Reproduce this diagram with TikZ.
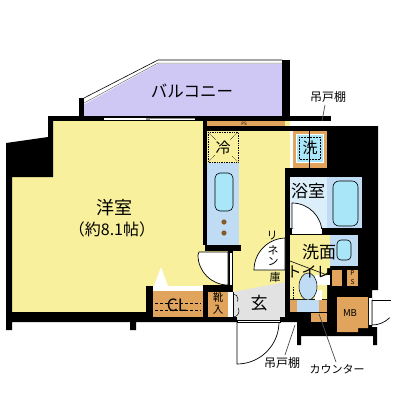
\documentclass[tikz,border=0pt]{standalone}
\usepackage{fontspec}
\setmainfont{Noto Sans CJK JP}
\usepackage{tikz}
\definecolor{roomcol}{HTML}{F8F09C}
\definecolor{balccol}{HTML}{CFC8F4}
\definecolor{boxcol}{HTML}{E0A45C}
\definecolor{unitcol}{HTML}{BFDCF4}
\definecolor{bathcol}{HTML}{DCEEFA}
\definecolor{tubcol}{HTML}{A8E6F8}
\definecolor{hallcol}{HTML}{E2E2E2}
\tikzset{
  wall/.style={fill=black,draw=none},
  cupboard/.style={fill=boxcol,draw=none},
  fixture/.style={fill=tubcol,draw=black,line width=0.6pt,rounded corners=5pt},
  leaf/.style={fill=white,draw=black,line width=0.7pt},
  leader/.style={draw=black!70,line width=0.7pt},
  lab/.style={inner sep=0pt,text=black}
}
\begin{document}
\begin{tikzpicture}[x=1pt,y=-1pt]
\useasboundingbox (0,0) rectangle (400,400);
% balcony
\fill[balccol] (83,105) -- (158,64) -- (282,64) -- (282,116) -- (83,116) -- cycle;
\draw[line width=0.6pt] (84,98) -- (158,60) -- (282,60);
\draw[black!60,line width=0.5pt] (84,103) -- (158,63) -- (282,63);
\fill[wall] (79,98) rectangle (84,116);
\fill[wall] (282,60) rectangle (290,116);
% floors
\fill[roomcol] (53,121) -- (290,121) -- (290,317) -- (146,317) -- (146,312) -- (12,312) -- (12,177) -- (53,177) -- cycle;
\fill[hallcol] (233,292) -- (285,282) -- (285,317) -- (233,317) -- cycle;
% outer walls
\fill[wall] (48,116) rectangle (331,121);
\fill[wall] (6,143) -- (48,137) -- (48,116) -- (53,116) -- (53,177) -- (12,177) -- (12,312) -- (146,312) -- (146,286) -- (153,286) -- (153,317) -- (237,317) -- (237,322) -- (136,322) -- (136,330) -- (130,330) -- (130,322) -- (12,322) -- (12,330) -- (6,330) -- cycle;
\fill[white] (104,118) rectangle (146,120);
\fill[black!45] (146,118) rectangle (195,120);
\fill[white] (150,119) rectangle (195,120);
\fill[wall] (203,126) rectangle (331,131);
\fill[wall] (285,168) -- (327,168) -- (327,126) -- (378,126) -- (378,290) -- (372,290) -- (372,327) -- (377,327) -- (377,345) -- (373,345) -- (373,336) -- (301,336) -- (301,345) -- (297,345) -- (297,322) -- (280,322) -- (280,317) -- (285,317) -- cycle;
% kitchen
\fill[wall] (203,121) rectangle (207,245);
\fill[wall] (205,245) rectangle (241,251);
\fill[cupboard] (207,121) rectangle (285,126);
\node[lab,font=\fontsize{4.5}{5}\selectfont] (psa) at (244,123.5) {PS};
\draw[densely dotted,fill=roomcol,line width=0.7pt] (208,132) rectangle (238,162);
\draw[densely dotted,line width=0.5pt] (208,132) -- (238,162) (238,132) -- (208,162);
\node[lab,fill=roomcol,inner sep=1pt,font=\fontsize{15}{15}\selectfont] (fridge) at (223,148) {冷};
\fill[unitcol] (207,163) rectangle (239,245);
\draw[fixture] (215,173) rectangle (233,211);
\fill[brown!70!black] (224,222) circle (2.6) (224,233) circle (2.6);
% washer
\fill[cupboard] (293,131) rectangle (327,168);
\draw[fill=tubcol,draw=white,line width=1pt] (296,134) rectangle (323,162);
\draw[densely dotted,line width=0.5pt] (299,137) rectangle (320,159);
\node[lab,font=\fontsize{15}{15}\selectfont] (washer) at (310,148) {洗};
\draw[line width=0.7pt] (309,131) -- (309,168);
% bath
\fill[bathcol] (290,177) rectangle (327,228);
\fill[unitcol] (327,177) rectangle (362,228);
\draw[fixture,rounded corners=6pt] (333,181) rectangle (358,226);
\draw[leaf] (292,229) -- (292,203) arc[start angle=-90,end angle=0,radius=30] -- cycle;
\fill[white] (292,229) rectangle (322,234);
\node[lab,font=\fontsize{17}{17}\selectfont] (bath) at (308,191) {浴室};
% wash room
\fill[roomcol] (290,235) -- (330,235) -- (330,268) -- (327,268) -- (327,299) -- (290,299) -- cycle;
\fill[unitcol] (330,235) rectangle (358,266);
\draw[fixture,rounded corners=4pt] (337,240) rectangle (351,260);
\fill[cupboard] (332,270) rectangle (342,286);
\fill[cupboard] (347,270) rectangle (358,286);
\node[lab,font=\fontsize{6.5}{7}\selectfont] (psp) at (352.5,273.5) {P};
\node[lab,font=\fontsize{6.5}{7}\selectfont] (pss) at (352.5,282) {S};
\fill[white] (315,275) rectangle (330,285);
\fill[white] (315,290) rectangle (322,300);
\draw[fill=unitcol,line width=0.5pt] (308,286.5) ellipse (9 and 13.5);
\draw[densely dotted,line width=0.6pt] (293,287) -- (293,299);
\fill[cupboard] (290,300) rectangle (297,312);
\fill[unitcol] (297,300) rectangle (319,312);
\fill[cupboard] (319,300) rectangle (327,312);
\fill[cupboard] (311,313) rectangle (327,322);
\node[lab,font=\fontsize{17}{17}\selectfont] (washroom) at (319,252) {洗面};
\node[lab,font=\fontsize{15}{15}\selectfont] (toilet) at (309,272) {トイレ};
\coordinate (diaga) at (282,258);
\coordinate (diagb) at (327,275);
\draw[line width=0.6pt] (diaga) -- (diagb);
% MB and door on the east side
\fill[cupboard] (337,297) -- (368,297) -- (368,328) -- (358,328) -- (358,332) -- (337,332) -- cycle;
\node[lab,font=\fontsize{9.5}{10}\selectfont] (mb) at (350,313) {MB};
\fill[white] (369,298) rectangle (372,325);
\draw[line width=0.7pt] (372,300) -- (391,300);
\draw[line width=0.7pt] (372,300) -- (372,325) arc[start angle=90,end angle=45,radius=25];
% closet and entrance
\fill[white] (153,287) rectangle (203,291);
\fill[cupboard] (153,291) rectangle (203,317);
\draw[densely dashed,line width=0.5pt] (155,303) -- (201,303) (155,310) -- (201,310);
\node[lab,font=\fontsize{17}{17}\selectfont] (cl) at (177,305) {CL};
\fill[wall] (203,285) rectangle (233,292);
\fill[wall] (203,285) rectangle (208,317);
\fill[cupboard] (208,292) rectangle (228,317);
\node[lab,align=center,font=\fontsize{10.5}{12}\selectfont] (shoe) at (218,304) {靴\\入};
\fill[wall] (228,251) rectangle (233,292);
\fill[white] (230,253) rectangle (231.5,285);
\draw[leaf] (199,252) -- (228,252) -- (228,285) arc[start angle=90,end angle=180,radius=30] -- cycle;
\fill[white] (228,292) rectangle (233,317);
\draw[line width=0.5pt] (233,292) -- (233,317);
\draw[line width=0.5pt] (233,294) arc[start angle=-90,end angle=30,radius=5];
\draw[line width=0.5pt] (233,317) arc[start angle=90,end angle=-30,radius=6];
\fill[white] (161,267) -- (154,286) -- (168,286) -- cycle;
\fill[white] (153,286) rectangle (203,287);
\node[lab,font=\fontsize{17}{17}\selectfont] (genkan) at (259,303) {玄};
% linen store
\draw[leaf] (285,238) -- (285,270) -- (254,270) arc[start angle=180,end angle=270,radius=32];
\node[lab,font=\fontsize{11}{11}\selectfont] (linena) at (272,236) {リ};
\node[lab,font=\fontsize{11}{11}\selectfont] (linenb) at (273,250) {ネ};
\node[lab,font=\fontsize{11}{11}\selectfont] (linenc) at (273,262) {ン};
\node[lab,font=\fontsize{11}{11}\selectfont] (linend) at (275,277) {庫};
% main door
\fill[hallcol] (237,317) rectangle (280,320);
\draw[fill=white,line width=0.6pt] (237,320) rectangle (280,322);
\draw[line width=0.7pt] (279,322) arc[start angle=0,end angle=90,radius=42] -- (237,322);
% texts
\node[lab,font=\fontsize{16.5}{17}\selectfont] (balcony) at (192,91) {バルコニー};
\node[lab,font=\fontsize{18}{18}\selectfont] (room) at (114,208) {洋室};
\node[lab,font=\fontsize{16}{16}\selectfont] (size) at (112,229) {（約8.1帖）};
\node[lab,font=\fontsize{12}{12}\selectfont] (shelfa) at (328,97) {吊戸棚};
\node[lab,font=\fontsize{12}{12}\selectfont] (shelfb) at (282,363) {吊戸棚};
\node[lab,font=\fontsize{11}{12}\selectfont] (counter) at (337,369) {カウンター};
\coordinate (shelfaend) at (322,121);
\coordinate (shelfbend) at (295,325);
\coordinate (counterend) at (319,314);
\draw[leader] (325,105) -- (shelfaend);
\draw[leader] (285,355) -- (shelfbend);
\draw[leader] (336,362) -- (counterend);
\end{tikzpicture}
\end{document}
